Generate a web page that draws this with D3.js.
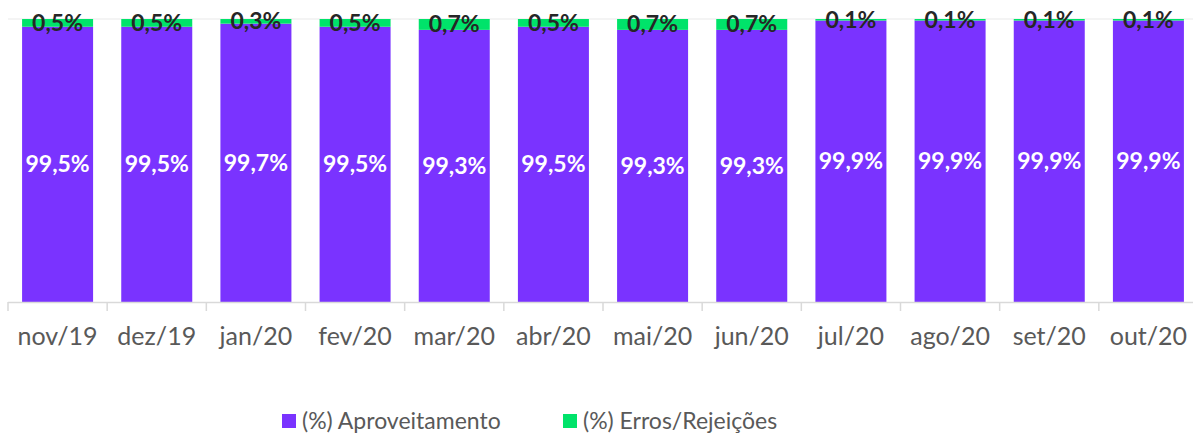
<!DOCTYPE html>
<html lang="pt">
<head>
  <meta charset="UTF-8">
  <title>Aproveitamento x Erros/Rejeições</title>
  <script src="https://d3js.org/d3.v7.min.js"></script>
  <style>
    body { margin: 0; background: #fff; }
    svg { display: block; font-family: Lato, "Open Sans", sans-serif; }
  </style>
</head>
<body>
  <svg id="chart"></svg>

  <script>
    // data
    const months = ["nov/19", "dez/19", "jan/20", "fev/20", "mar/20", "abr/20",
                    "mai/20", "jun/20", "jul/20", "ago/20", "set/20", "out/20"];
    const aproveitamento = [99.5, 99.5, 99.7, 99.5, 99.3, 99.5, 99.3, 99.3, 99.9, 99.9, 99.9, 99.9];
    const erros = [0.5, 0.5, 0.3, 0.5, 0.7, 0.5, 0.7, 0.7, 0.1, 0.1, 0.1, 0.1];
    const seriesNames = ["(%) Aproveitamento", "(%) Erros/Rejeições"];
    const colors = ["#7a33ff", "#00e36a"];

    const width = 1193, height = 436;
    const svg = d3.select("#chart").attr("width", width).attr("height", height);

    const rows = months.map((m, i) => ({ month: m, a: aproveitamento[i], e: erros[i] }));
    const stack = d3.stack().keys(["a", "e"])(rows);

    const x = d3.scaleBand()
      .domain(months)
      .range([8, 1198])
      .paddingInner(0.284)
      .paddingOuter(0.142);

    // the top band is stretched so the thin error slices stay visible, like the original
    const y = d3.scaleLinear()
      .domain([0, 98, 100])
      .range([302, 50, 19]);

    const fmt = v => d3.format(".1f")(v).replace(".", ",") + "%";

    // top gridline
    svg.append("line")
      .attr("x1", 8).attr("x2", 1193)
      .attr("y1", y(100)).attr("y2", y(100))
      .style("stroke", "#f0f0f0")
      .style("stroke-width", 1.5);

    // bars
    const layer = svg.append("g")
      .selectAll("g")
      .data(stack)
      .enter().append("g")
      .style("fill", (d, i) => colors[i]);

    layer.selectAll("rect")
      .data(d => d)
      .enter().append("rect")
      .attr("x", d => x(d.data.month))
      .attr("width", x.bandwidth())
      .attr("y", d => y(d[1]))
      .attr("height", d => y(d[0]) - y(d[1]));

    // labels
    layer.selectAll("text")
      .data(d => d)
      .enter().append("text")
      .attr("x", d => x(d.data.month) + x.bandwidth() / 2)
      .attr("y", d => (y(d[0]) + y(d[1])) / 2)
      .attr("dy", "0.35em")
      .attr("text-anchor", "middle")
      .style("font-size", "23px")
      .style("font-weight", "bold")
      .style("fill", (d, i, n) => n[i].parentNode.__data__.key === "a" ? "#ffffff" : "#262626")
      .text(d => fmt(d[1] - d[0]));

    // x axis
    const axis = svg.append("g");
    axis.append("line")
      .attr("x1", 8).attr("x2", 1198)
      .attr("y1", 302.5).attr("y2", 302.5)
      .style("stroke", "#d9d9d9")
      .style("stroke-width", 1.5);

    const half = (x.step() - x.bandwidth()) / 2;
    const bounds = months.map(m => x(m) - half).concat([x(months[months.length - 1]) + x.bandwidth() + half]);
    axis.selectAll(".tick")
      .data(bounds)
      .enter().append("line")
      .attr("x1", d => d).attr("x2", d => d)
      .attr("y1", 302).attr("y2", 311)
      .style("stroke", "#d9d9d9")
      .style("stroke-width", 1.5);

    axis.selectAll("text")
      .data(months)
      .enter().append("text")
      .attr("x", d => x(d) + x.bandwidth() / 2)
      .attr("y", 345)
      .attr("text-anchor", "middle")
      .style("font-size", "25px")
      .style("fill", "#595959")
      .text(d => d);

    // legend
    const legendX = [282, 563];
    const legend = svg.append("g")
      .selectAll("g")
      .data(seriesNames)
      .enter().append("g")
      .attr("transform", (d, i) => `translate(${legendX[i]},414)`);

    legend.append("rect")
      .attr("width", 14).attr("height", 14)
      .style("fill", (d, i) => colors[i]);

    legend.append("text")
      .attr("x", 20)
      .attr("y", 15)
      .style("font-size", "23px")
      .style("fill", "#595959")
      .text(d => d);
  </script>
</body>
</html>
